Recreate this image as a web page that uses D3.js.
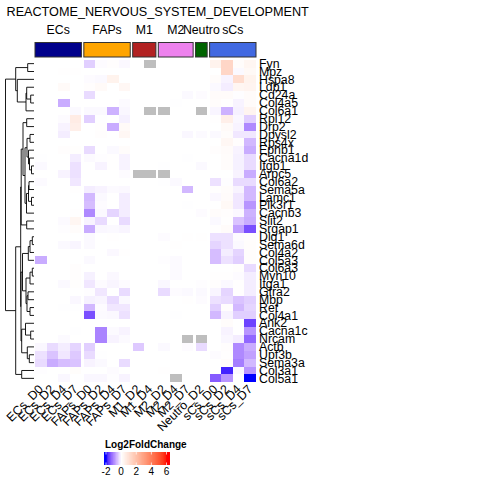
<!DOCTYPE html>
<html lang="en">
<head>
<meta charset="UTF-8">
<title>REACTOME_NERVOUS_SYSTEM_DEVELOPMENT</title>
<script src="https://d3js.org/d3.v7.min.js"></script>
<style>
  body, html { margin: 0; background: #fff; }
  text { font-family: 'Liberation Sans', Arial, sans-serif; fill: #000; }
</style>
</head>
<body>
<svg id="chart" width="480" height="480"></svg>
<script>
const genes = ["Fyn","Mpz","Hspa8","Ldb1","Cd24a","Col4a5","Col6a1","Rpl12","Drp2","Dpysl2","Rps4x","Ephb1","Cacna1d","Itgb1","Arpc5","Col6a2","Sema5a","Lamc1","Pik3r1","Cacnb3","Slit2","Srgap1","Dlg1","Sema6d","Col4a2","Col5a3","Col6a3","Myh10","Itga1","Gfra2","Mbp","Ret","Col4a1","Ank2","Cacna1c","Nrcam","Actb","Upf3b","Sema3a","Col3a1","Col5a1"];
const samples = ["ECs_D0","ECs_D2","ECs_D4","ECs_D7","FAPs_D0","FAPs_D2","FAPs_D4","FAPs_D7","M1_D2","M1_D4","M2_D2","M2_D4","M2_D7","Neutro_D2","sCs_D0","sCs_D2","sCs_D4","sCs_D7"];
const groupNames = ["ECs","FAPs","M1","M2","Neutro","sCs"];
const groupSizes = [4,4,2,3,1,4];
const groupColors = ["#00008B","#FFA500","#B22222","#EE82EE","#006400","#4169E1"];
const legendTicks = [-2,0,2,4,6];

// log2 fold change, one row per gene, null = NA (grey)
const lfc = [
[0,0,0,0, -.4,-.03,.05,-.06, 0,null, 0,0,0, 0, .4,1.3,.1,.3],
[0,0,.02,.02, 0,0,0,0, 0,0, 0,0,0, 0, 0,1.3,-.05,.2],
[0,0,0,0, -.03,-.05,.4,0, 0,0, 0,0,0, 0, .1,-.1,1.1,.4],
[0,0,.15,0, .05,.15,0,.25, 0,0, 0,0,0, 0, -.05,-.15,.3,.35],
[0,0,0,0, -.3,0,0,0, 0,0, 0,0,-.05, -.03, .12,.12,-.02,.12],
[0,0,-.7,0, 0,0,0,-.04, 0,0, 0,-.01,0, 0, .1,.03,-.1,.12],
[0,0,0,-.05, -.05,-.05,-.65,-.07, 0,null, null,0,0, null, -.08,-.65,-.12,.35],
[0,0,-.03,.6, -.4,-.01,0,-.12, 0,0, 0,0,0, 0, .03,.5,-.07,-.4],
[0,0,-.1,.5, 0,.04,-.7,.15, 0,0, 0,.01,0, 0, 0,.15,-.1,-1],
[0,0,-.15,0, 0,.05,0,.25, 0,0, .01,0,-.07, -.04, -.05,.1,-.2,-.2],
[0,0,0,0, 0,0,0,0, 0,0, .01,0,0, 0, 0,.25,.05,-.6],
[0,0,.05,.04, -.3,0,-.05,.1, 0,0, .01,0,0, 0, .05,.12,-.1,-.7],
[-.01,0,0,-.15, -.04,-.02,.02,-.1, 0,0, 0,0,-.01, 0, 0,.1,-.12,-.3],
[-.05,0,0,-.25, 0,-.1,.03,-.1, 0,0, -.01,0,0, -.05, 0,.1,-.12,-.3],
[0,0,-.1,-.25, 0,0,0,-.03, null,null, null,0,0, 0, 0,0,-.1,-.7],
[-.04,0,0,-.2, 0,0,0,0, 0,0, -.01,-.05,0, 0, -.25,-.02,-.3,-.3],
[0,0,0,.02, -.15,-.1,-.04,-.06, 0,0, 0,0,-.6, 0, .02,.1,-.1,-.6],
[0,0,0,0, -.6,-.05,0,-.15, 0,0, 0,0,0, 0, -.06,.12,-.2,-.6],
[0,0,0,0, -.55,-.03,0,-.15, 0,0, 0,0,-.01, 0, 0,.2,-.2,-.9],
[0,0,0,.02, -1,-.05,-.35,-.15, 0,0, 0,0,0, -.03, .1,.05,-.06,-.65],
[0,0,-.04,.3, -.1,-.3,0,-.3, 0,0, 0,0,0, 0, -.05,.03,-.5,-.7],
[0,0,-.02,.1, -.7,-.07,-.05,-.08, 0,0, 0,0,0, 0, .02,.12,-.8,-1.5],
[0,0,0,0, -.05,0,.03,0, 0,0, -.03,0,.02, .03, -.25,-.25,-.03,.05],
[0,0,-.05,-.08, -.05,0,0,0, 0,0, 0,.02,0, 0, -.35,-.25,-.05,.07],
[0,0,0,0, 0,0,-.06,.03, 0,0, 0,0,0, 0, -.55,-.15,-.35,.07],
[-.7,0,0,.01, -.05,0,0,0, 0,0, -.02,-.04,0, 0, -.55,-.25,-.4,.07],
[0,0,0,.05, 0,0,0,0, 0,0, 0,-.04,0, 0, 0,0,.04,-.3],
[0,0,0,.05, -.12,0,-.06,0, 0,0, 0,-.04,0, 0, .03,.02,-.03,-.15],
[0,0,-.05,.04, -.2,-.03,-.08,-.03, 0,0, -.07,.01,0, -.02, .05,-.05,.03,-.15],
[0,0,0,0, -.02,-.2,0,-.3, 0,0, -.3,-.03,-.05, -.05, -.08,-.35,.03,-.15],
[0,0,0,-.07, -.12,-.08,-.3,-.05, 0,0, 0,0,.02, -.03, -.25,-.3,-.5,-.4],
[0,0,-.01,-.01, -.6,-.03,-.2,-.2, 0,0, 0,0,0, 0, -.4,.05,-.6,-.35],
[0,0,0,0, -1.5,-.04,-.06,-.25, 0,0, 0,-.01,0, 0, -.6,-.1,-.4,-.4],
[0,0,0,0, 0,0,0,0, 0,0, 0,0,0, 0, 0,.1,0,-1.6],
[0,0,0,-.01, 0,-1.05,-.04,-.1, 0,0, 0,0,0, 0, 0,-.1,0,-.9],
[0,0,-.04,0, 0,-1.05,-.1,-.04, 0,0, 0,0,null, null, 0,-.07,-.15,-1.3],
[-.07,-.3,-.15,-.35, -.4,0,0,0, -.45,0, -.05,0,-.03, -.3, 0,.05,-1,-.7],
[-.25,-.5,-.2,-.45, -.3,-.01,0,0, 0,0, 0,0,0, 0, -.03,.03,-1,-.8],
[-.3,-.7,-.55,-.5, -.1,-.05,0,-.3, 0,0, 0,0,0, 0, 0,.1,-1.1,-.6],
[-.02,0,0,.08, 0,0,-.03,0, 0,0, .03,0,0, 0, 0,-1.85,-.05,-.9],
[0,0,-.07,0, -.07,-.07,-.02,-.1, 0,0, 0,null,0, 0, -1.4,-.9,0,-2]
];

// row dendrogram: [height, left, right], leaves are gene names
const rowTree = [28.5,
  [18.3,
    [6.3,"Fyn","Mpz"],
    [16.7,"Hspa8",
      [8,[7.3,"Ldb1",[3.3,"Cd24a","Col4a5"]],"Col6a1"]]],
  [18.3,
    [13.3,
      [12.8,
        [11,
          [7.3,"Rpl12","Drp2"],
          [9,
            [7,[4,"Dpysl2","Rps4x"],[5.5,"Ephb1",[4.5,"Cacna1d",[2.5,"Itgb1","Arpc5"]]]],
            [7.5,[5.5,[5,"Col6a2","Sema5a"],[2.5,"Lamc1","Pik3r1"]],"Cacnb3"]]],
        [7.3,"Slit2","Srgap1"]],
      [13,
        [11.5,
          [5.7,[4,[1.7,"Dlg1","Sema6d"],"Col4a2"],"Col5a3"],
          [8,
            [4,[1.7,"Col6a3","Myh10"],"Itga1"],
            [7,[6,"Gfra2","Mbp"],[4,"Ret","Col4a1"]]]],
        [12.3,
          [8.5,"Ank2",[3.3,"Cacna1c","Nrcam"]],
          [6.7,"Actb",[4.7,"Upf3b","Sema3a"]]]]],
    [12.3,"Col3a1","Col5a1"]]];

const svg = d3.select("#chart");
const color = d3.scaleLinear().domain([-2,0,6]).range(["#0000ff","#ffffff","#ff0000"]).interpolate(d3.interpolateLab).clamp(true);

// columns: position index including the gaps between groups
const gapUnits = 0.21;
const colGroup = groupSizes.flatMap((n,i) => d3.range(n).map(() => i));
const x = d3.scaleLinear().domain([0, samples.length + gapUnits*(groupSizes.length-1)]).range([35, 256]);
const colX = i => x(i + colGroup[i]*gapUnits);
const cellW = x(1) - x(0);
const y = d3.scaleBand().domain(genes).range([59.7, 382.3]);

svg.append("text").attr("x", 6.5).attr("y", 15.5).attr("font-size", 12.65)
  .text("REACTOME_NERVOUS_SYSTEM_DEVELOPMENT");

// column group annotation
let start = 0;
groupNames.forEach((g,i) => {
  const x0 = colX(start), x1 = colX(start + groupSizes[i] - 1) + cellW;
  svg.append("rect").attr("x", x0).attr("y", 42.5).attr("width", x1-x0).attr("height", 14.5)
    .attr("fill", groupColors[i]).attr("stroke", "#333");
  svg.append("text").attr("x", (x0+x1)/2).attr("y", 33.5).attr("text-anchor","middle").attr("font-size", 12.3).text(g);
  start += groupSizes[i];
});

// heatmap cells
svg.append("g").attr("shape-rendering","crispEdges").selectAll("g")
  .data(lfc).join("g").each(function(row, r) {
    d3.select(this).selectAll("rect").data(row).join("rect")
      .attr("x", (d,c) => colX(c)).attr("y", y(genes[r]))
      .attr("width", cellW).attr("height", y.bandwidth())
      .attr("fill", d => d === null ? "#BEBEBE" : color(d));
  });

// row labels
svg.append("g").selectAll("text").data(genes).join("text")
  .attr("x", 259).attr("y", d => y(d) + y.bandwidth()/2 + 4.2).attr("font-size", 12.3).text(d => d);

// column labels
svg.append("g").selectAll("text").data(samples).join("text")
  .attr("text-anchor","end").attr("font-size", 12.3)
  .attr("transform", (d,i) => `translate(${colX(i)+cellW/2+3},${390}) rotate(-45)`)
  .text(d => d);

// dendrogram
const treeX = d3.scaleLinear().domain([0, rowTree[0]]).range([34, 5.5]);
const root = d3.hierarchy(rowTree, d => Array.isArray(d) ? d.slice(1) : null);
root.eachAfter(n => {
  if (n.children) {
    n.py = d3.mean(n.children, c => c.py);
    n.px = treeX(n.data[0]);
  } else {
    n.py = y(n.data) + y.bandwidth()/2;
    n.px = treeX(0);
  }
});
const link = d3.path();
root.each(n => {
  if (!n.children) return;
  const [a,b] = n.children;
  link.moveTo(a.px, a.py); link.lineTo(n.px, a.py);
  link.lineTo(n.px, b.py); link.lineTo(b.px, b.py);
});
svg.append("path").attr("d", link.toString()).attr("fill","none").attr("stroke","#000").attr("stroke-width",0.9);

// colour legend
const lx = d3.scaleLinear().domain([-2,6]).range([106,166.5]);
const lo = lx.invert(104.3), hi = lx.invert(169.7);
svg.append("text").attr("x",105).attr("y",447.5).attr("font-size",10).attr("font-weight","bold").text("Log2FoldChange");
svg.append("g").attr("shape-rendering","crispEdges").selectAll("rect")
  .data(d3.range(lo, hi, 0.05)).join("rect")
  .attr("x", d => lx(d)).attr("y",452).attr("width", lx(0.1)-lx(0)).attr("height",13)
  .attr("fill", d => color(d));
legendTicks.forEach(t => {
  svg.append("line").attr("x1",lx(t)).attr("x2",lx(t)).attr("y1",452).attr("y2",454.5).attr("stroke","#fff").attr("stroke-width",0.7);
  svg.append("line").attr("x1",lx(t)).attr("x2",lx(t)).attr("y1",462.5).attr("y2",465).attr("stroke","#fff").attr("stroke-width",0.7);
  svg.append("text").attr("x",lx(t)).attr("y",474.5).attr("text-anchor","middle").attr("font-size",10).text(t);
});
</script>
</body>
</html>
